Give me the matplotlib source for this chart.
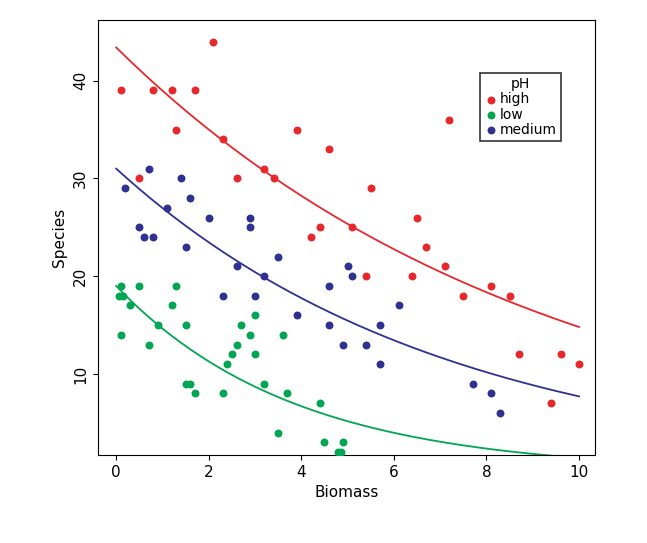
import numpy as np
import matplotlib.pyplot as plt

high_x = [0.1, 0.5, 0.8, 1.2, 1.3, 1.7, 2.1, 2.3, 2.6, 3.2, 3.4, 3.9, 4.2, 4.4, 4.6, 5.1, 5.4, 5.5,
          6.4, 6.5, 6.7, 7.1, 7.2, 7.5, 8.1, 8.5, 8.7, 9.4, 9.6, 10.0]
high_y = [39, 30, 39, 39, 35, 39, 44, 34, 30, 31, 30, 35, 24, 25, 33, 25, 20, 29,
          20, 26, 23, 21, 36, 18, 19, 18, 12, 7, 12, 11]
low_x = [0.05, 0.1, 0.1, 0.15, 0.3, 0.5, 0.7, 0.9, 1.2, 1.3, 1.5, 1.5, 1.6, 1.7, 2.3, 2.4, 2.5, 2.6,
         2.7, 2.9, 3.0, 3.0, 3.2, 3.5, 3.6, 3.7, 4.4, 4.5, 4.8, 4.85, 4.9]
low_y = [18, 14, 19, 18, 17, 19, 13, 15, 17, 19, 15, 9, 9, 8, 8, 11, 12, 13,
         15, 14, 12, 16, 9, 4, 14, 8, 7, 3, 2, 2, 3]
med_x = [0.2, 0.5, 0.6, 0.7, 0.8, 1.1, 1.4, 1.5, 1.6, 2.0, 2.3, 2.6, 2.9, 2.9, 3.0, 3.2, 3.5, 3.9,
         4.6, 4.6, 4.9, 5.0, 5.1, 5.4, 5.7, 5.7, 6.1, 7.7, 8.1, 8.3]
med_y = [29, 25, 24, 31, 24, 27, 30, 23, 28, 26, 18, 21, 26, 25, 18, 20, 22, 16,
         19, 15, 13, 21, 20, 13, 15, 11, 17, 9, 8, 6]

# fitted curve values at Biomass 0 and 10
fit_start = {"high": 43.4, "low": 19.0, "medium": 31.0}
fit_end = {"high": 14.8, "low": 1.4, "medium": 7.7}

colors = {"high": "#e8272b", "low": "#00a651", "medium": "#2e3192"}
groups = {"high": (high_x, high_y), "low": (low_x, low_y), "medium": (med_x, med_y)}

fig = plt.figure(figsize=(6.47, 5.43), dpi=100)
ax = fig.add_axes([0.151, 0.162, 0.769, 0.801])

xs = np.linspace(0, 10, 200)
for name, (x, y) in groups.items():
    ax.scatter(x, y, s=22, color=colors[name], label=name, zorder=3)
    a, b = fit_start[name], fit_end[name]
    ax.plot(xs, a * (b / a) ** (xs / 10), color=colors[name], lw=1.3)

ax.set_xlim(-0.4, 10.35)
ax.set_ylim(1.7, 46.2)
ax.set_xticks([0, 2, 4, 6, 8, 10])
ax.set_yticks([10, 20, 30, 40])
ax.set_xlabel("Biomass", fontsize=11)
ax.set_ylabel("Species", fontsize=11)
ax.tick_params(labelsize=11)
plt.setp(ax.get_yticklabels(), rotation=90, va="center")

leg = ax.legend(title="pH", loc="upper left", bbox_to_anchor=(0.755, 0.895),
                fancybox=False, edgecolor="black", fontsize=10, title_fontsize=10,
                handletextpad=0.1, borderpad=0.3, labelspacing=0.1, handlelength=1.0)
leg.get_frame().set_linewidth(1.2)

fig.savefig("out.png", dpi=100)
